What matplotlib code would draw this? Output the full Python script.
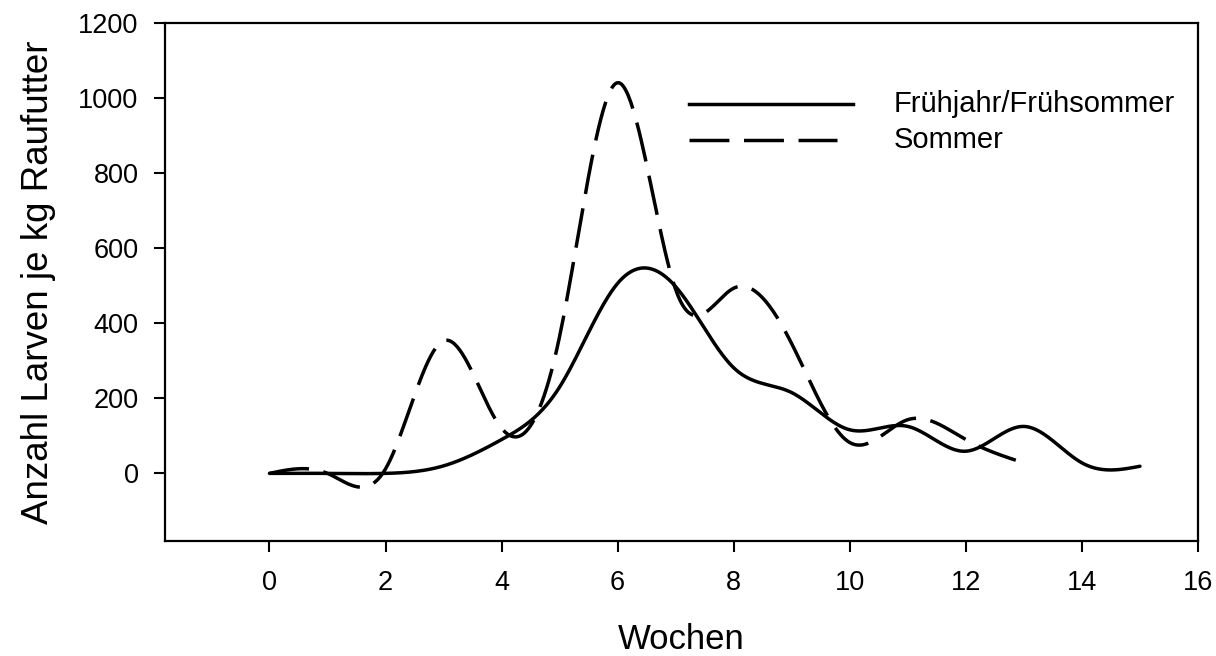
import numpy as np
import matplotlib.pyplot as plt
from matplotlib.lines import Line2D

plt.rcParams["font.family"] = ["Liberation Sans", "DejaVu Sans"]

# =========================
# Data
# =========================
weeks_fs = [0, 1, 2, 3, 4, 5, 6, 7, 8, 9, 10, 11, 12, 13, 14, 15]
larvae_fs = [0, 0, 0, 20, 90, 230, 506, 497, 281, 215, 116, 125, 59, 125, 28, 19]

weeks_so = [0, 1, 2, 3, 4, 5, 6, 7, 8, 9, 10, 11, 12, 13]
larvae_so = [0, 0, 12, 353, 120, 365, 1040, 489, 493, 345, 82, 143, 90, 28]

labels = ["Frühjahr/Frühsommer", "Sommer"]
x_ticks = [0, 2, 4, 6, 8, 10, 12, 14, 16]
y_ticks = [0, 200, 400, 600, 800, 1000, 1200]


def natural_spline(x, y, n=600):
    # natural cubic spline through the points (like the original spline plot)
    x = np.asarray(x, float)
    y = np.asarray(y, float)
    k = len(x)
    h = np.diff(x)
    A = np.zeros((k, k))
    b = np.zeros(k)
    A[0, 0] = 1
    A[-1, -1] = 1
    for i in range(1, k - 1):
        A[i, i - 1] = h[i - 1]
        A[i, i] = 2 * (h[i - 1] + h[i])
        A[i, i + 1] = h[i]
        b[i] = 6 * ((y[i + 1] - y[i]) / h[i] - (y[i] - y[i - 1]) / h[i - 1])
    M = np.linalg.solve(A, b)
    xs = np.linspace(x[0], x[-1], n)
    idx = np.clip(np.searchsorted(x, xs) - 1, 0, k - 2)
    x0, x1 = x[idx], x[idx + 1]
    hh = x1 - x0
    t0 = x1 - xs
    t1 = xs - x0
    ys = (M[idx] * t0 ** 3 / (6 * hh) + M[idx + 1] * t1 ** 3 / (6 * hh)
          + (y[idx] / hh - M[idx] * hh / 6) * t0
          + (y[idx + 1] / hh - M[idx + 1] * hh / 6) * t1)
    return xs, ys


fig = plt.figure(figsize=(12.16, 6.56), dpi=100)
ax = fig.add_axes([165 / 1216, 1 - 541 / 656, 1033 / 1216, 518.4 / 656])

lw = 2.5
dash = (11.5, 4.2)

xs, ys = natural_spline(weeks_fs, larvae_fs)
ax.plot(xs, ys, color="black", linewidth=lw, solid_capstyle="round")

xs, ys = natural_spline(weeks_so, larvae_so)
ax.plot(xs, ys, color="black", linewidth=lw, linestyle=(0, dash), dash_capstyle="butt")

ax.set_xlim(-1.8, 16)
ax.set_ylim(-180, 1200)
ax.set_xticks(x_ticks)
ax.set_yticks(y_ticks)
ax.tick_params(axis="both", direction="out", length=8, width=1.5, labelsize=19.5)
ax.tick_params(axis="x", pad=13)
ax.tick_params(axis="y", pad=11)
for s in ax.spines.values():
    s.set_linewidth(1.6)

ax.set_xlabel("Wochen", fontsize=25, labelpad=19)
ax.set_ylabel("Anzahl Larven je kg Raufutter", fontsize=26.5, labelpad=16)

# legend drawn by hand to match the original placement
ax.add_line(Line2D([0.5073, 0.666], [0.843, 0.843], transform=ax.transAxes,
                   color="black", linewidth=lw))
ax.add_line(Line2D([0.5073, 0.6505], [0.7735, 0.7735], transform=ax.transAxes,
                   color="black", linewidth=lw, linestyle=(0, dash), dash_capstyle="butt"))
ax.text(0.7057, 0.843, labels[0], transform=ax.transAxes, fontsize=21, va="center")
ax.text(0.7057, 0.7735, labels[1], transform=ax.transAxes, fontsize=21, va="center")

plt.savefig("out.png", dpi=100)
